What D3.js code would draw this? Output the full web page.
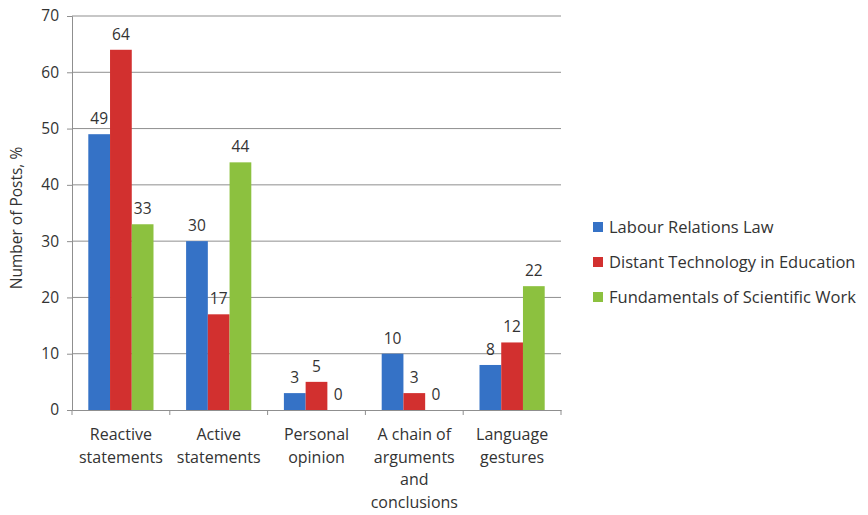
<!DOCTYPE html>
<html><head><meta charset="utf-8">
<script src="https://cdn.jsdelivr.net/npm/d3@7"></script>
<style>body{margin:0;background:#fff}text{font-family:"Open Sans",sans-serif;fill:#333}</style>
</head><body><svg id="c" width="868" height="515"></svg>
<script>
const categories = [["Reactive","statements"],["Active","statements"],["Personal","opinion"],["A chain of","arguments","and","conclusions"],["Language","gestures"]];
const seriesNames = ["Labour Relations Law","Distant Technology in Education","Fundamentals of Scientific Work"];
const labour = [49,30,3,10,8];
const distant = [64,17,5,3,12];
const fundamentals = [33,44,0,0,22];
const yTicks = [0,10,20,30,40,50,60,70];
const colors = ["#3572c6","#d2302f","#8cc13f"];
const series = [labour, distant, fundamentals];

(function(){
const svg = d3.select("#c");
const pL = 72, pR = 561, pT = 16, pB = 410;
const x = d3.scaleBand().domain(d3.range(categories.length)).range([pL, pR]).paddingInner(0).paddingOuter(0);
const inner = d3.scaleBand().domain(d3.range(3)).range([0, x.bandwidth()]).paddingOuter(0.75).paddingInner(0);
const y = d3.scaleLinear().domain([0,70]).range([pB, pT]);

// grid
svg.append("g").selectAll("line").data(yTicks.filter(d=>d>0)).join("line")
  .attr("x1", pL).attr("x2", pR).attr("y1", d=>y(d)).attr("y2", d=>y(d))
  .attr("stroke", "#8f8f8f").attr("stroke-width", 1);

// y axis
const ya = svg.append("g").attr("transform", `translate(${pL},0)`)
  .call(d3.axisLeft(y).tickValues(yTicks).tickSize(5).tickPadding(8));
ya.select(".domain").attr("stroke", "#8f8f8f");
ya.selectAll(".tick line").attr("stroke", "#8f8f8f");
ya.selectAll("text").style("font-size", "15.5px").attr("fill", "#333");

// bars
series.forEach((s, si) => {
  svg.append("g").selectAll("rect").data(s).join("rect")
    .attr("x", (d,i)=>x(i)+inner(si)).attr("width", inner.bandwidth())
    .attr("y", d=>y(d)).attr("height", d=>y(0)-y(d)).attr("fill", colors[si]);
  svg.append("g").selectAll("text").data(s).join("text")
    .attr("x", (d,i)=>x(i)+inner(si)+inner.bandwidth()/2)
    .attr("y", d=>y(d)-10).attr("text-anchor", "middle")
    .style("font-size", "15.5px").text(d=>d);
});

// x axis
const xa = svg.append("g").attr("transform", `translate(0,${pB})`)
  .call(d3.axisBottom(x).tickSize(0).tickFormat(""));
xa.select(".domain").attr("stroke", "#8f8f8f");
svg.append("g").selectAll("line").data(d3.range(categories.length+1)).join("line")
  .attr("x1", d=>pL + d*x.step()).attr("x2", d=>pL + d*x.step())
  .attr("y1", pB).attr("y2", pB+5).attr("stroke", "#8f8f8f");
const lbl = svg.append("g").selectAll("text").data(categories).join("text")
  .attr("text-anchor", "middle").style("font-size", "16px");
lbl.each(function(lines, i){
  const t = d3.select(this);
  lines.forEach((l, j) => t.append("tspan").attr("x", x(i)+x.bandwidth()/2).attr("y", 440 + j*22.5).text(l));
});

// y label
svg.append("text").attr("transform", "translate(22,218) rotate(-90)")
  .attr("text-anchor", "middle").style("font-size", "15.5px").text("Number of Posts, %");

// legend
const lg = svg.append("g").selectAll("g").data(seriesNames).join("g")
  .attr("transform", (d,i)=>`translate(593,${227 + i*35})`);
lg.append("rect").attr("x", 0).attr("y", -5).attr("width", 10).attr("height", 10).attr("fill", (d,i)=>colors[i]);
lg.append("text").attr("x", 16).attr("y", 6).style("font-size", "16.5px").text(d=>d);
})();
</script></body></html>
